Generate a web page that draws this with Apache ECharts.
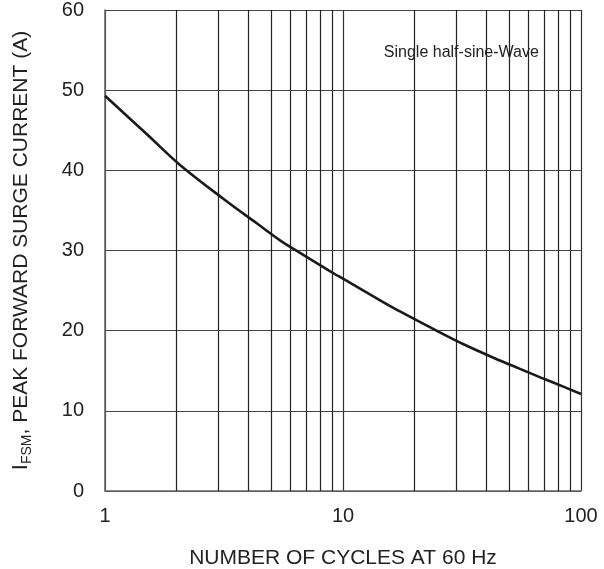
<!DOCTYPE html>
<html>
<head>
<meta charset="utf-8">
<script src="https://cdn.jsdelivr.net/npm/echarts@6/dist/echarts.min.js"></script>
<style>html,body{margin:0;padding:0;background:#fff}#c{width:604px;height:569px}</style>
</head>
<body>
<div id="c"></div>
<script>
// Curve: number of cycles vs peak forward surge current (A)
const cycles  = [1, 1.5, 2.06, 3.19, 4.34, 5.42, 6.44, 9.19, 10, 14.5, 17.6, 24.7, 32.1, 43.8, 54.8, 65.9, 76.9, 100];
const current = [49.3, 44.5, 40.7, 36.3, 33.4, 31.3, 29.9, 27.1, 26.5, 23.7, 22.3, 20.0, 18.3, 16.5, 15.3, 14.3, 13.5, 12.1];
// minor log grid positions
const minorX = [2,3,4,5,6,7,8,9,20,30,40,50,60,70,80,90];
// annotation box (data coords)
const boxX = [10.3, 76];
const boxY = [50.4, 59.4];
const note = 'Single half-sine-Wave';

const chart = echarts.init(document.getElementById('c'), null, {renderer:'canvas'});
const FONT = 'Liberation Sans, Arial, sans-serif';
chart.setOption({
  backgroundColor: '#fff',
  animation: false,
  grid: {left:105, right:23, top:10, bottom:78, containLabel:false, outerBoundsMode: 'none'},
  xAxis: {
    type: 'log', logBase: 10, min: 1, max: 100,
    name: 'NUMBER OF CYCLES AT 60 Hz',
    nameLocation: 'middle', nameGap: 57,
    nameTextStyle: {fontFamily: FONT, fontSize: 21, color: '#222'},
    axisLine: {show: true, lineStyle: {color: '#666', width: 1.6}},
    axisTick: {show: false},
    axisLabel: {fontFamily: FONT, fontSize: 20, color: '#222', margin: 15},
    splitLine: {show: true, lineStyle: {color: '#333', width: 1.2}},
    minorTick: {show: false}, minorSplitLine: {show: false}
  },
  yAxis: {
    type: 'value', min: 0, max: 60, interval: 10,
    name: '{a|I}{s|FSM}{b|, PEAK FORWARD SURGE CURRENT (A)}',
    nameLocation: 'middle', nameGap: 70, nameRotate: 90,
    nameTextStyle: {
      fontFamily: FONT, color: '#222',
      rich: {
        a: {fontFamily: FONT, fontSize: 22, color: '#222', lineHeight: 28, verticalAlign: 'middle'},
        s: {fontFamily: FONT, fontSize: 14, color: '#222', lineHeight: 28, verticalAlign: 'bottom', padding:[0,0,1,0]},
        b: {fontFamily: FONT, fontSize: 21, color: '#222', lineHeight: 28, verticalAlign: 'middle'}
      }
    },
    axisLine: {show: true, lineStyle: {color: '#666', width: 1.6}},
    axisTick: {show: false},
    axisLabel: {fontFamily: FONT, fontSize: 20, color: '#222', margin: 21},
    splitLine: {show: true, lineStyle: {color: '#444', width: 1.2}}
  },
  series: [
    {
      type: 'line', data: [], z: 1, silent: true,
      markLine: {
        silent: true, symbol: 'none', animation: false,
        label: {show: false},
        lineStyle: {type: 'solid', color: '#222', width: 1.2},
        data: minorX.map(v => ({xAxis: v}))
      }
    },
    {
      type: 'line', data: [], z: 3, silent: true,
      markArea: {
        silent: true,
        itemStyle: {color: '#fff', borderWidth: 0},
        label: {show: true, position: 'inside', formatter: note, offset: [12, 2],
                fontFamily: FONT, fontSize: 16, color: '#222'},
        data: [[{xAxis: boxX[0], yAxis: boxY[0]}, {xAxis: boxX[1], yAxis: boxY[1]}]]
      }
    },
    {
      type: 'line', z: 5, smooth: 0.35, symbol: 'none',
      lineStyle: {color: '#1a1a1a', width: 2.6},
      data: cycles.map((c, i) => [c, current[i]])
    }
  ]
});
</script>
</body>
</html>
